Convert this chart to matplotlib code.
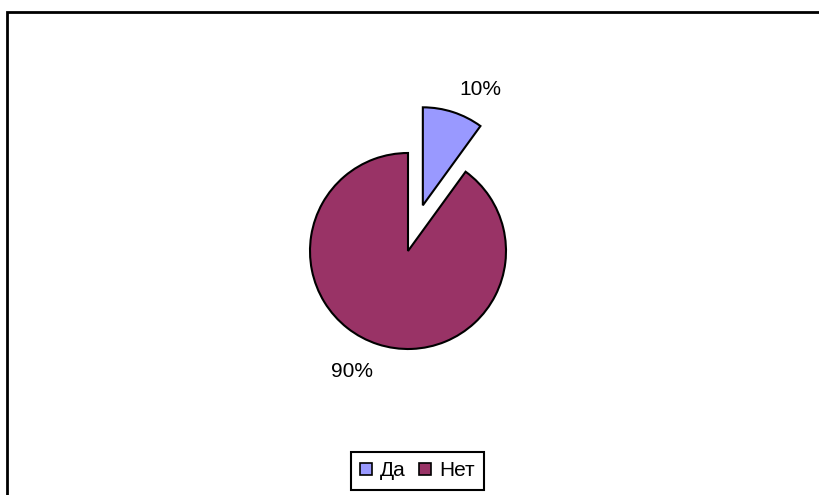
import matplotlib.pyplot as plt
from matplotlib.patches import Rectangle

plt.rcParams['font.family'] = ['Liberation Sans', 'DejaVu Sans']

labels = ['Да', 'Нет']
values = [10, 90]
colors = ['#9999FF', '#993366']
explode = [0.49, 0]

W, H = 819, 495
fig = plt.figure(figsize=(W / 100, H / 100), dpi=100)

# pie centre at (408, 251) px, radius 98 px
cx, cy, r = 408, 251, 98
half = 200
ax = fig.add_axes([(cx - half) / W, (H - cy - half) / H, 2 * half / W, 2 * half / H])
ax.axis('off')

wedges, _ = ax.pie(values, colors=colors, explode=explode, startangle=90,
                   counterclock=False, radius=1,
                   wedgeprops=dict(edgecolor='black', linewidth=1.5))
ax.set_xlim(-half / r, half / r)
ax.set_ylim(-half / r, half / r)

# percentage labels (positions in radius units from the centre)
total = sum(values)
label_pos = [(0.735, 1.65), (-0.57, -1.23)]
for v, (lx, ly) in zip(values, label_pos):
    ax.text(lx, ly, f'{v / total * 100:.0f}%', ha='center', va='center', fontsize=15)

leg = fig.legend(wedges, labels, loc='center', bbox_to_anchor=(417.5 / W, 1 - 471 / H),
                 ncol=2, frameon=True, fancybox=False, edgecolor='black',
                 framealpha=1, fontsize=15, handlelength=0.55, handleheight=0.55,
                 handletextpad=0.4, columnspacing=0.65, borderpad=0.45,
                 borderaxespad=0)
leg.get_frame().set_linewidth(1.5)
for h in leg.legend_handles:
    h.set_linewidth(1.2)

# outer chart frame (only left and top visible)
fig.patches.append(Rectangle((7 / W, -0.1), 1.2, 1 - 12 / H + 0.1, transform=fig.transFigure,
                             fill=False, edgecolor='black', linewidth=2, clip_on=False))

fig.savefig('out.png', dpi=100)
